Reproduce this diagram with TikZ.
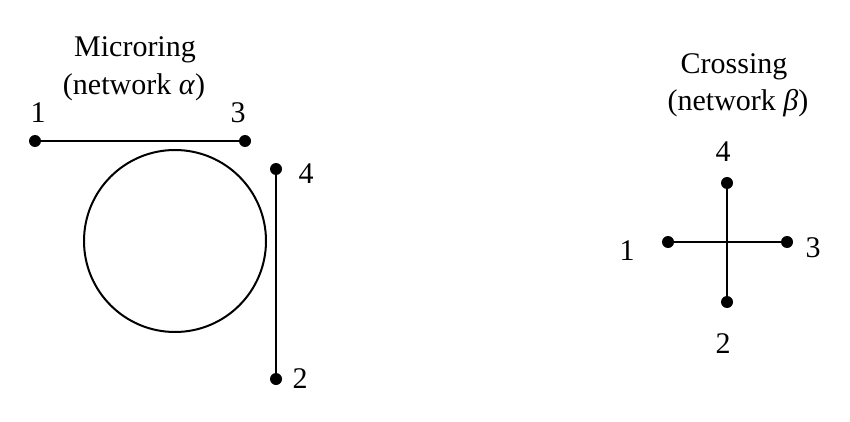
\documentclass[tikz,border=0pt]{standalone}
\usepackage{fontspec}
\setmainfont{Liberation Serif}
\begin{document}
\begin{tikzpicture}[x=1pt,y=-1pt,
  dot/.style={circle,fill=black,inner sep=0pt,minimum size=12pt},
  lbl/.style={font=\fontsize{30}{33}\selectfont,inner sep=0pt},
  wire/.style={line width=2pt}]
\useasboundingbox[fill=white] (0,0) rectangle (850,422);
% Microring network
\node[lbl] (t1) at (135,50) {Microring};
\node[lbl] (t2) at (134,87) {(network \textit{α})};
\node[dot] (a1) at (35,141) {};
\node[dot] (a3) at (245,141) {};
\node[dot] (a4) at (276,169) {};
\node[dot] (a2) at (276,379) {};
\node[lbl] (la1) at (38,113) {1};
\node[lbl] (la3) at (238,113) {3};
\node[lbl] (la4) at (306,174) {4};
\node[lbl] (la2) at (300,379) {2};
\draw[wire] (a1.center) -- (a3.center);
\draw[wire] (a4.center) -- (a2.center);
\node[draw,wire,circle,minimum size=182pt,inner sep=0pt] (ring) at (175,241) {};
% Crossing network
\node[lbl] (t3) at (734,67) {Crossing};
\node[lbl] (t4) at (738,103) {(network \textit{β})};
\node[dot] (b1) at (668,242) {};
\node[dot] (b3) at (787,242) {};
\node[dot] (b4) at (727,183) {};
\node[dot] (b2) at (727,302) {};
\draw[wire] (b1.center) -- (b3.center);
\draw[wire] (b4.center) -- (b2.center);
\node[lbl] (lb4) at (723,152) {4};
\node[lbl] (lb1) at (627,251) {1};
\node[lbl] (lb3) at (813,248) {3};
\node[lbl] (lb2) at (723,344) {2};
\end{tikzpicture}
\end{document}
